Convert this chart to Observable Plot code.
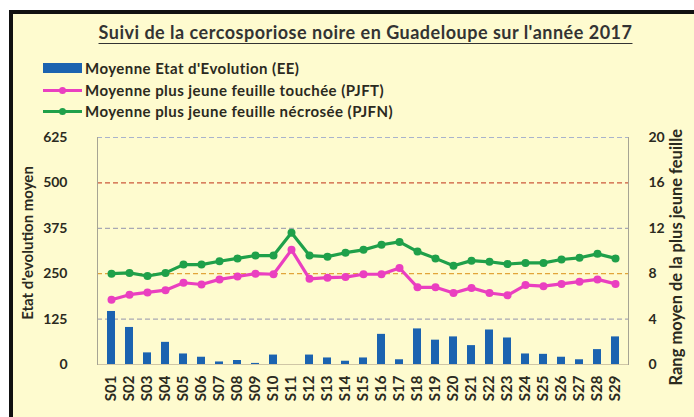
<!DOCTYPE html>
<html><head><meta charset="utf-8">
<script src="https://cdn.jsdelivr.net/npm/d3@7"></script>
<script src="https://cdn.jsdelivr.net/npm/@observablehq/plot@0.6"></script>
<style>
html,body{margin:0;padding:0;background:#fff;}
#wrap{position:relative;width:694px;height:417px;overflow:hidden;background:#fff;font-family:Lato,"Open Sans",sans-serif;color:#2b2a1e;}
#frame{position:absolute;left:9px;top:10px;width:685px;height:407px;box-sizing:border-box;border-left:4px solid #111;border-top:4px solid #111;background:#fefbcf;}
#title{position:absolute;left:0;top:21px;width:731px;text-align:center;font-size:18px;letter-spacing:0.5px;font-weight:bold;line-height:22px;text-decoration:underline;text-underline-offset:4px;color:#333;}
.leg{position:absolute;left:85px;font-size:15px;letter-spacing:0.45px;font-weight:bold;line-height:18px;color:#2b2a1e;}
.sw{position:absolute;}
#chart{position:absolute;left:0;top:0;}
</style></head>
<body>
<div id="wrap">
  <div id="frame"></div>
  <div id="title">Suivi de la cercosporiose noire en Guadeloupe sur l'année 2017</div>
  <div class="sw" style="left:43px;top:63px;width:39px;height:10px;background:#1b63b0"></div>
  <div class="leg" style="top:59px">Moyenne Etat d'Evolution (EE)</div>
  <div class="sw" style="left:43px;top:89px;width:39px;height:3px;background:#ea3fc0"></div>
  <div class="sw" style="left:59px;top:87px;width:7px;height:7px;border-radius:50%;background:#ea3fc0"></div>
  <div class="leg" style="top:81px">Moyenne plus jeune feuille touchée (PJFT)</div>
  <div class="sw" style="left:43px;top:110px;width:39px;height:3px;background:#1fa04a"></div>
  <div class="sw" style="left:59px;top:108px;width:7px;height:7px;border-radius:50%;background:#1fa04a"></div>
  <div class="leg" style="top:102px">Moyenne plus jeune feuille nécrosée (PJFN)</div>
  <div id="chart"></div>
</div>
<script>
const weeks = ["S01","S02","S03","S04","S05","S06","S07","S08","S09","S10","S11","S12","S13","S14","S15","S16","S17","S18","S19","S20","S21","S22","S23","S24","S25","S26","S27","S28","S29"];
const ee = [146,102,32,61,29,20,7,11,3,26,0,26,18,9,18,83,13,98,67,76,52,95,73,29,28,20,13,41,76];
const pjft = [5.7,6.15,6.35,6.55,7.2,7.05,7.5,7.75,8.0,7.95,10.1,7.55,7.65,7.7,7.95,7.95,8.5,6.8,6.8,6.3,6.75,6.3,6.1,7.0,6.9,7.1,7.3,7.5,7.1];
const pjfn = [8.0,8.07,7.8,8.07,8.8,8.8,9.1,9.35,9.6,9.6,11.6,9.6,9.5,9.85,10.1,10.55,10.8,9.95,9.35,8.7,9.15,9.05,8.85,8.95,8.95,9.25,9.4,9.75,9.35];
const leftTicks = [0,125,250,375,500,625];
const rightTicks = [0,4,8,12,16,20];
const gridValues = [125,250,375,500,625];
const gridColors = ["#a8a8b4","#e2a53a","#a8a8b4","#cc5a3c","#a9b3cc"];

const ratio = 625 / 20;
const data = weeks.map((w, i) => ({week: w, ee: ee[i], pjft: pjft[i], pjfn: pjfn[i]}));
const grid = gridValues.map((v, i) => ({v, c: gridColors[i]}));
const ink = "#2b2a1e";

const chart = Plot.plot({
  width: 694, height: 417,
  marginTop: 137, marginBottom: 53, marginLeft: 97, marginRight: 66,
  style: {background: "transparent", fontFamily: "Lato, 'Open Sans', sans-serif", color: ink},
  x: {type: "band", domain: weeks, paddingInner: 0.56, paddingOuter: 0.28, axis: null},
  y: {domain: [0, 625], axis: null},
  marks: [
    Plot.ruleY(grid, {y: "v", stroke: "c", strokeDasharray: "5,3", strokeWidth: 1.2}),
    Plot.ruleY([0], {stroke: "#cfc6a6", strokeWidth: 1}),
    Plot.frame({anchor: "left", stroke: "#a6a494"}),
    Plot.frame({anchor: "right", stroke: "#a6a494"}),
    Plot.barY(data, {x: "week", y: "ee", fill: "#1b63b0"}),
    Plot.line(data, {x: "week", y: d => d.pjft * ratio, stroke: "#ea3fc0", strokeWidth: 3.2}),
    Plot.dot(data, {x: "week", y: d => d.pjft * ratio, fill: "#ea3fc0", r: 4}),
    Plot.line(data, {x: "week", y: d => d.pjfn * ratio, stroke: "#1fa04a", strokeWidth: 3.2}),
    Plot.dot(data, {x: "week", y: d => d.pjfn * ratio, fill: "#1fa04a", r: 4}),
    Plot.axisX({anchor: "bottom", tickRotate: -90, tickSize: 0, tickPadding: 11, fontSize: 15, fontWeight: "bold", label: null}),
    Plot.axisY({anchor: "left", ticks: leftTicks, tickSize: 0, tickPadding: 30, fontSize: 14, fontWeight: "bold", label: null}),
    Plot.axisY({anchor: "right", ticks: rightTicks.map(t => t * ratio), tickFormat: d => String(Math.round(d / ratio)), tickSize: 0, tickPadding: 20, fontSize: 14, fontWeight: "bold", textAnchor: "start", label: null}),
    Plot.text(["Etat d'evolution moyen"], {frameAnchor: "left", dx: -69, dy: -8, rotate: -90, textAnchor: "middle", fontSize: 15, fontWeight: "bold", fill: ink}),
    Plot.text(["Rang moyen de la plus jeune feuille"], {frameAnchor: "bottom-right", dx: 53, dy: 21, rotate: -90, textAnchor: "start", fontSize: 16.5, fontWeight: "bold", fill: ink})
  ]
});
document.getElementById("chart").appendChild(chart);
</script>
</body></html>
